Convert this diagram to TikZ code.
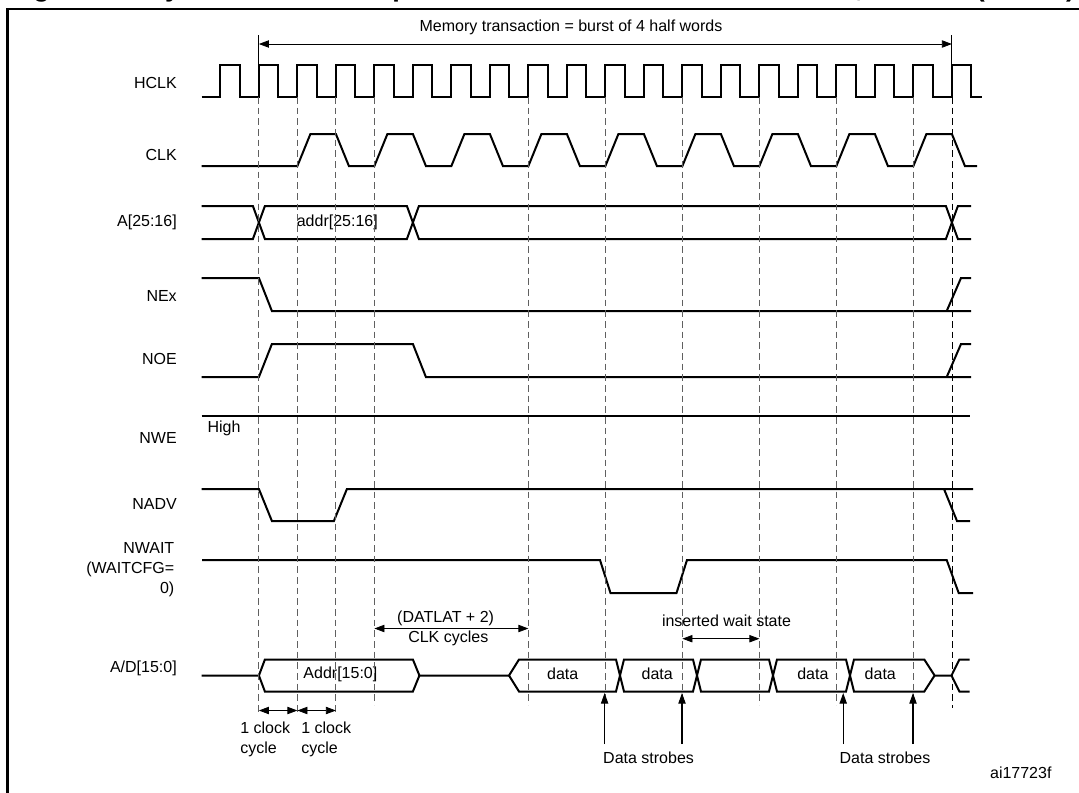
\documentclass[tikz,border=0pt]{standalone}
\usepackage{fontspec}
\setmainfont{Liberation Sans}
\usetikzlibrary{arrows.meta}
\newcommand{\tk}[1]{(220.4+38.5*(#1))}

\begin{document}
\begin{tikzpicture}[x=0.75pt,y=-0.75pt,font=\fontsize{12}{15}\selectfont,
	wave/.style={line width=1.5pt},
	guide/.style={line width=0.8pt,gray!75!black,dash pattern=on 5pt off 3pt},
	sig/.style={anchor=east,inner sep=0pt,align=right},
	lab/.style={inner sep=0pt},
	dim/.style={line width=0.6pt,{Triangle[length=7.5pt,width=5.5pt]}-{Triangle[length=7.5pt,width=5.5pt]}},
	strobe/.style={line width=0.8pt,-{Triangle[length=8pt,width=5.5pt]}}]
	\useasboundingbox (0,0) rectangle (1079,793);
	% title, cut by the page edge
	\node (title) [anchor=base west,inner sep=0pt,font=\fontsize{20.3}{24}\selectfont\bfseries] at (9,-4) {Figure 44. Synchronous multiplexed read mode waveforms - NOR, PSRAM (CRAM)};
	\draw[line width=1.9pt] (7.6,800) -- (7.6,9) -- (1085,9);

	% signal names
	\node (hclk) [sig] at (177,83) {HCLK};
	\node (clk) [sig] at (177,155) {CLK};
	\node (ahi) [sig] at (177,222) {A[25:16]};
	\node (nex) [sig] at (177,296) {NEx};
	\node (noe) [sig] at (177,359) {NOE};
	\node (nwe) [sig] at (177,438) {NWE};
	\node (nadv) [sig] at (177,504) {NADV};
	\node (nwait) [sig] at (174.5,570) {NWAIT\\(WAITCFG=\\0)};
	\node (ad) [sig] at (177,668) {A/D[15:0]};

	% waveforms
	\draw[wave] (201.5,97) foreach \k in {0,...,19} {-- ({\tk{\k}},97) -- ({\tk{\k}},65) -- ({\tk{\k}+19.25},65) -- ({\tk{\k}+19.25},97)} -- (982,97);
	\draw[wave] (201.5,166) foreach \k in {2,4,...,18} {-- ({\tk{\k}},166) -- ({\tk{\k}+13},134) -- ({\tk{\k+1}},134) -- ({\tk{\k+1}+13},166)} -- (977,166);
	\draw[wave] (201.5,206) -- ({\tk{1}-6},206) -- ({\tk{1}+6},239) -- ({\tk{5}-6},239) -- ({\tk{5}+6},206) -- ({\tk{19}-6},206) -- ({\tk{19}+6},239) -- (971,239);
	\draw[wave] (201.5,239) -- ({\tk{1}-6},239) -- ({\tk{1}+6},206) -- ({\tk{5}-6},206) -- ({\tk{5}+6},239) -- ({\tk{19}-6},239) -- ({\tk{19}+6},206) -- (971,206);
	\draw[wave] (201.5,278) -- ({\tk{1}},278) -- ({\tk{1}+13},311) -- (971,311) (946.7,311) -- (961,278) -- (971,278);
	\draw[wave] (201.5,377) -- ({\tk{1}},377) -- ({\tk{1}+13},344) -- ({\tk{5}},344) -- ({\tk{5}+13},377) -- (971,377) (946.7,377) -- (961,344) -- (971,344);
	\draw[wave] (201.5,416) -- (970,416);
	\draw[wave] (201.5,489) -- ({\tk{1}},489) -- ({\tk{1}+13},521) -- ({\tk{3}-2},521) -- ({\tk{3}+11},489) -- (973,489) (944,489) -- (957,521) -- (970,521);
	\draw[wave] (202,560) -- (600,560) -- (610.5,593) -- (676.5,593) -- (687,560) -- (946.7,560) -- (958.7,593) -- (973,593);
	\draw[wave] (201.5,675.5) -- ({\tk{1}},675.5) -- ({\tk{1}+6},659.5) -- ({\tk{5}},659.5) -- ({\tk{5}+6.5},675.5) -- ({\tk{5}},691.5) -- ({\tk{1}+6},691.5) -- ({\tk{1}},675.5);
	\draw[wave] ({\tk{5}+6.5},675.5) -- (509,675.5) -- (519,659.5) -- (616,659.5) -- (624,691.5) -- (693,691.5) -- (701,659.5) -- (769,659.5) -- (777,691.5) -- (846,691.5) -- (854,659.5) -- (924.3,659.5) -- (934.6,675.5) -- (951.5,675.5) -- (959.4,659.5) -- (969.7,659.5);
	\draw[wave] (509,675.5) -- (519,691.5) -- (616,691.5) -- (624,659.5) -- (693,659.5) -- (701,691.5) -- (769,691.5) -- (777,659.5) -- (846,659.5) -- (854,691.5) -- (924.3,691.5) -- (934.6,675.5) (951.5,675.5) -- (959.4,691.5) -- (969.7,691.5);

	% texts on the waves
	\node (High) [lab] at (224,428) {High};
	\node (addrhi) [lab] at (337.3,222) {addr[25:16]};
	\node (addrlo) [lab] at (340.4,674) {Addr[15:0]};
	\node (d1) [lab] at (562.7,674) {data};
	\node (d2) [lab] at (657.2,674) {data};
	\node (d3) [lab] at (812.9,674) {data};
	\node (d4) [lab] at (880.3,674) {data};

	% clock edge guides
	\foreach \k in {4,8,10,12,14,16,18} \draw[guide] ({\tk{\k}},97) -- ({\tk{\k}},705);
	\foreach \k in {1,2,3} \draw[guide] ({\tk{\k}},97) -- ({\tk{\k}},713);
	\draw[guide,black,line width=0.6pt] ({\tk{19}},97) -- ({\tk{19}},708);

	% burst span
	\coordinate (ms) at ({\tk{1}},44);
	\coordinate (me) at ({\tk{19}},44);
	\draw[line width=0.8pt] ({\tk{1}},35) -- ({\tk{1}},65) ({\tk{19}},35) -- ({\tk{19}},65);
	\draw[dim] (ms) -- (me);
	\node (burst) [lab] at (571,27.5) {Memory transaction = burst of 4 half words};

	% latency and wait state
	\coordinate (la) at ({\tk{4}},628.5);
	\coordinate (lb) at ({\tk{8}},628.5);
	\draw[dim] (la) -- (lb);
	\node (datlat) [lab] at (445.6,618.5) {(DATLAT + 2)};
	\node (clkcyc) [lab] at (448.3,638.8) {CLK cycles};
	\coordinate (wa) at ({\tk{12}},638.7);
	\coordinate (wb) at ({\tk{14}},638.7);
	\draw[dim] (wa) -- (wb);
	\node (wait) [lab] at (726.5,620.8) {inserted wait state};

	% one clock cycle marks
	\coordinate (c1) at ({\tk{1}},710.5);
	\coordinate (c2) at ({\tk{2}},710.5);
	\coordinate (c3) at ({\tk{3}},710.5);
	\draw[dim] (c1) -- (c2);
	\draw[dim] (c2) -- (c3);
	\node (cyc1) [lab,anchor=west,align=left] at (240,739.5) {1 clock\\cycle};
	\node (cyc2) [lab,anchor=west,align=left] at (301,739.5) {1 clock\\cycle};

	% data strobes
	\foreach \x [count=\i] in {604.6,682,843.2,913} {
		\coordinate (s\i) at (\x,744);
		\draw[strobe] (s\i) -- (\x,693);
	}
	\node (ds1) [lab] at (648.6,757.3) {Data strobes};
	\node (ds2) [lab] at (885,757.3) {Data strobes};
	\node (ref) [lab] at (1020.8,773) {ai17723f};
\end{tikzpicture}
\end{document}
